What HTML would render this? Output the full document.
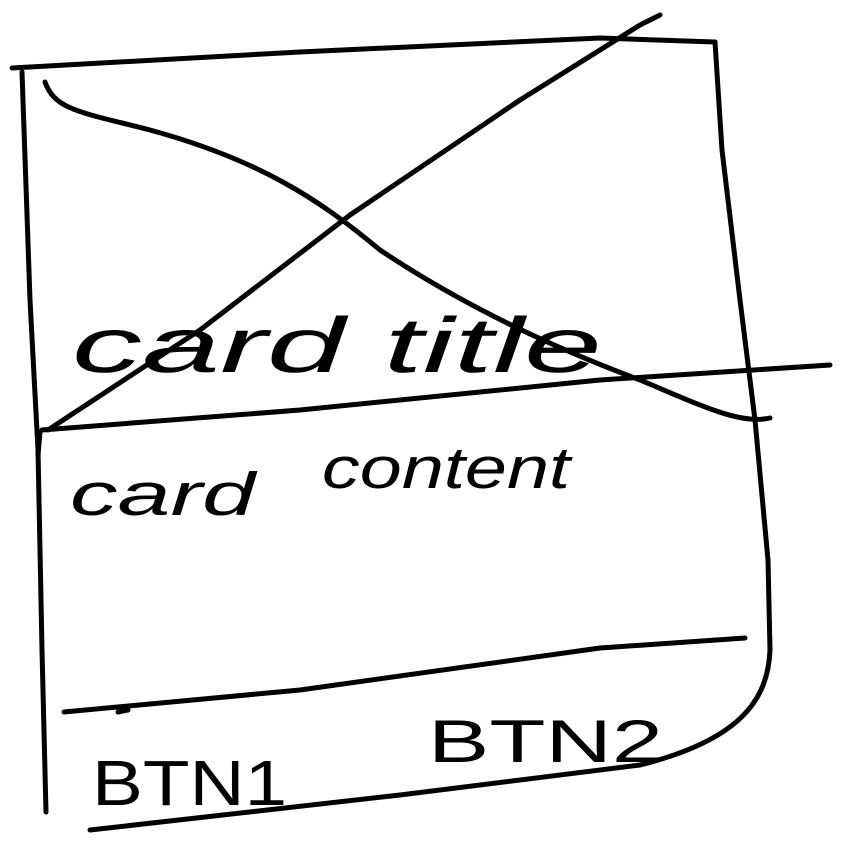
<!DOCTYPE html>
<html>
<head>
<meta charset="utf-8">
<style>
html,body{margin:0;padding:0;background:#fff;}
svg{display:block;}
text{font-family:"Liberation Sans",sans-serif;fill:#000;}
</style>
</head>
<body>
<svg width="853" height="845" viewBox="0 0 853 845">
  <g fill="none" stroke="#000" stroke-width="5" stroke-linecap="round" stroke-linejoin="round">
    <path d="M12,68 L300,52 L600,38 L715,42"/>
    <path d="M22,72 L30,300 L38,450 L42,650 L46,812"/>
    <path d="M715,42 L722,150 L740,300 L755,420 L768,560 L770,650 C768,700 740,740 640,765"/>
    <path d="M640,765 L400,795 L90,830"/>
    <path d="M45,82 C55,110 80,112 150,130 C260,160 320,200 380,250 C470,310 560,350 640,380 C700,405 740,425 770,418"/>
    <path d="M48,430 L200,330 L350,215 L520,100 L640,25 L660,15"/>
    <path d="M40,432 L38,455 M42,430 L300,410 L600,380 L830,365"/>
    <path d="M64,712 L300,690 L600,648 L745,638"/>
    <path d="M118,712 L128,710" />
  </g>
  <text x="72" y="372" font-size="78" font-style="italic" textLength="530" lengthAdjust="spacingAndGlyphs">card title</text>
  <text x="70" y="515" font-size="60" font-style="italic" textLength="185" lengthAdjust="spacingAndGlyphs">card</text>
  <text x="322" y="488" font-size="58" font-style="italic" textLength="248" lengthAdjust="spacingAndGlyphs">content</text>
  <text x="92" y="805" font-size="64" textLength="195" lengthAdjust="spacingAndGlyphs">BTN1</text>
  <text x="428" y="762" font-size="60" textLength="235" lengthAdjust="spacingAndGlyphs">BTN2</text>
</svg>
</body>
</html>
